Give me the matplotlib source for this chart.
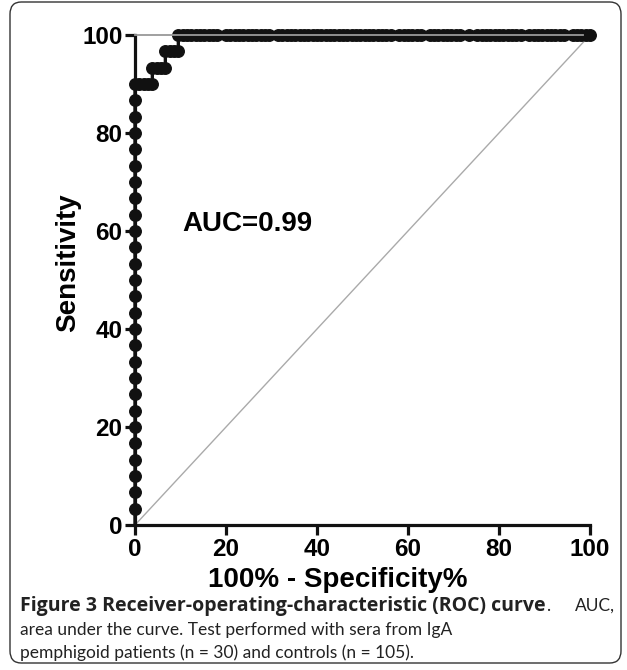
import numpy as np
import matplotlib.pyplot as plt
from matplotlib.patches import FancyBboxPatch

# 데이터 ---------------------------------
n_patients = 30
n_controls = 105

# x = 0 구간 (민감도 %)
rise_sens = [0, 3.3, 6.7, 10.0, 13.3, 16.7, 20.0, 23.3, 26.7, 30.0, 33.3, 36.7,
             40.0, 43.3, 46.7, 50.0, 53.3, 56.7, 60.0, 63.3, 66.7, 70.0, 73.3,
             76.7, 80.0, 83.3, 86.7, 90.0]
# 계단 구간 (100% - 특이도 %, 민감도 %)
step_fpr = [0.95, 1.90, 2.86, 3.81, 3.81, 4.76, 5.71, 6.67, 6.67, 7.62, 8.57, 9.52]
step_sens = [90.0, 90.0, 90.0, 90.0, 93.3, 93.3, 93.3, 93.3, 96.7, 96.7, 96.7, 96.7]
# 민감도 100% 구간: 위양성 대조군 수
top_fp_counts = [10, 11, 12, 13, 14, 15, 16, 17, 18, 19, 21, 22, 23, 24, 25, 26,
                 27, 28, 29, 30, 31, 33, 34, 35, 36, 37, 38, 39, 40, 41, 42, 43,
                 44, 45, 46, 47, 48, 49, 50, 51, 52, 53, 54, 55, 56, 57, 58, 59,
                 61, 62, 63, 64, 65, 66, 68, 69, 70, 71, 72, 73, 74, 75, 77, 79,
                 80, 81, 82, 83, 84, 85, 86, 87, 88, 89, 91, 92, 93, 94, 95, 96,
                 97, 98, 99, 101, 102, 103, 104, 105]

x_ticks = [0, 20, 40, 60, 80, 100]
y_ticks = [0, 20, 40, 60, 80, 100]
auc_text = 'AUC=0.99'

top_fpr = np.array(top_fp_counts) / n_controls * 100
fpr = np.concatenate([np.zeros(len(rise_sens)), step_fpr, top_fpr])
sens = np.concatenate([rise_sens, step_sens, np.full(len(top_fpr), 100.0)])

# 그림 -----------------------------------
plt.rcParams['font.family'] = ['Liberation Sans', 'DejaVu Sans']
fig = plt.figure(figsize=(6.27, 6.70), dpi=100)

# 둥근 테두리
frame = FancyBboxPatch((10 / 627, 7 / 670), 611 / 627, 661 / 670,
                       boxstyle='round,pad=0,rounding_size=0.018',
                       transform=fig.transFigure, fill=False,
                       edgecolor='#333333', linewidth=1.0)
fig.patches.append(frame)

ax = fig.add_axes([135 / 627, 145 / 670, 455 / 627, 490 / 670])
ax.set_xlim(0, 100)
ax.set_ylim(0, 100)

ax.plot([0, 100], [0, 100], color='#aaaaaa', lw=1.0, zorder=1, clip_on=False)
ax.plot(fpr, sens, color='#111111', lw=2.4, zorder=2, clip_on=False)
ax.plot(fpr[1:], sens[1:], 'o', color='#111111', ms=8.3, zorder=3, clip_on=False)
ax.plot([0, 98.5], [100, 100], color='#999999', lw=1.3, zorder=4, clip_on=False)

ax.text(10.5, 61.5, auc_text, fontsize=20, fontweight='bold', va='center')

for s in ['top', 'right']:
    ax.spines[s].set_visible(False)
for s in ['left', 'bottom']:
    ax.spines[s].set_linewidth(2.3)
    ax.spines[s].set_color('#111111')
ax.set_xticks(x_ticks)
ax.set_yticks(y_ticks)
ax.tick_params(length=7, width=2.3, color='#111111', labelsize=17.5, pad=2)
for lab in ax.get_xticklabels() + ax.get_yticklabels():
    lab.set_fontweight('bold')

ax.set_xlabel('100% - Specificity%', fontsize=20, fontweight='bold', labelpad=6)
ax.set_ylabel('Sensitivity', fontsize=20, fontweight='bold', labelpad=1)
ax.xaxis.set_label_coords(0.445, -0.085)
ax.yaxis.label.set_y(0.535)

# 캡션 -----------------------------------
bold_font = ['Open Sans', 'DejaVu Sans']
reg_font = ['Lato', 'Open Sans', 'DejaVu Sans']
cap_color = '#222222'
reg_size = 12.5
t1 = fig.text(20 / 627, 1 - 606 / 670, 'Figure 3 Receiver-operating-characteristic (ROC) curve',
              fontsize=14, fontweight='bold', family=bold_font, color=cap_color, va='center')
fig.canvas.draw()
bb = t1.get_window_extent()
fig.text(bb.x1 / fig.bbox.width, 1 - 606 / 670, '.', fontsize=reg_size,
         family=reg_font, color=cap_color, va='center')
fig.text(615 / 627, 1 - 606 / 670, 'AUC,', fontsize=reg_size, ha='right',
         family=reg_font, color=cap_color, va='center')
fig.text(20 / 627, 1 - 630 / 670, 'area under the curve. Test performed with sera from IgA',
         fontsize=reg_size, family=reg_font, color=cap_color, va='center')
fig.text(20 / 627, 1 - 653 / 670, 'pemphigoid patients (n = 30) and controls (n = 105).',
         fontsize=reg_size, family=reg_font, color=cap_color, va='center')

fig.savefig('out.png', dpi=100)
